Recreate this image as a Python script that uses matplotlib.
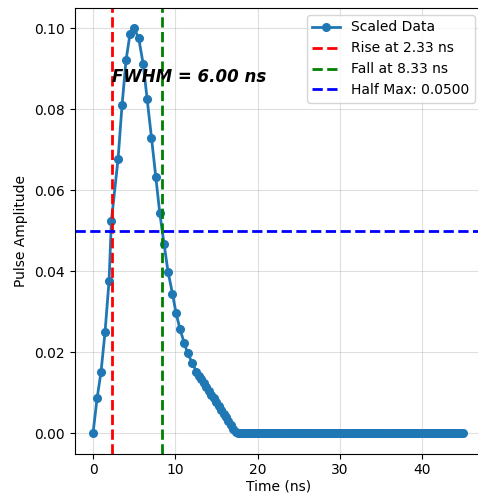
import matplotlib
matplotlib.use("Agg")
import matplotlib.pyplot as plt

# Peak / decay samples
time_main = [0.0, 0.49, 0.97, 1.46, 1.95, 2.23, 3.04, 3.53, 4.01, 4.5, 4.99,
             5.55, 6.1, 6.57, 7.1, 7.62, 8.1, 8.63, 9.11, 9.65, 10.09, 10.57,
             11.06, 11.5, 12.08, 12.56]
amp_main = [0.0, 0.0086, 0.0151, 0.025, 0.0377, 0.0524, 0.0677, 0.0811, 0.0921,
            0.0987, 0.1, 0.0975, 0.0911, 0.0826, 0.073, 0.0633, 0.0545, 0.0467,
            0.0399, 0.0345, 0.0296, 0.0257, 0.0224, 0.0197, 0.0173, 0.0151]

# Linear tail down to zero
time_tail = [12.85, 13.15, 13.45, 13.75, 14.05, 14.35, 14.65, 14.95, 15.25,
             15.55, 15.85, 16.15, 16.45, 16.75, 17.05, 17.35]
amp_tail = [0.0142, 0.0133, 0.0123, 0.0114, 0.0105, 0.0095, 0.0086, 0.0077,
            0.0067, 0.0058, 0.0048, 0.0039, 0.0030, 0.0020, 0.0011, 0.0002]

# Flat zero region
time_flat = [17.65, 17.9, 18.15, 18.4, 18.65, 18.9, 19.15, 19.4, 19.65, 19.9,
             20.15, 20.4, 20.65, 20.9, 21.15, 21.4, 21.65, 21.9, 22.15, 22.4,
             22.65, 22.9, 23.15, 23.4, 23.65, 23.9, 24.15, 24.4, 24.65, 24.9,
             25.15, 25.4, 25.65, 25.9, 26.15, 26.4, 26.65, 26.9, 27.15, 27.4,
             27.65, 27.9, 28.15, 28.4, 28.65, 28.9, 29.15, 29.4, 29.65, 29.9,
             30.15, 30.4, 30.65, 30.9, 31.15, 31.4, 31.65, 31.9, 32.15, 32.4,
             32.65, 32.9, 33.15, 33.4, 33.65, 33.9, 34.15, 34.4, 34.65, 34.9,
             35.15, 35.4, 35.65, 35.9, 36.15, 36.4, 36.65, 36.9, 37.15, 37.4,
             37.65, 37.9, 38.15, 38.4, 38.65, 38.9, 39.15, 39.4, 39.65, 39.9,
             40.15, 40.4, 40.65, 40.9, 41.15, 41.4, 41.65, 41.9, 42.15, 42.4,
             42.65, 42.9, 43.15, 43.4, 43.65, 43.9, 44.15, 44.4, 44.65, 45.0]
amp_flat = [0.0] * len(time_flat)

time = time_main + time_tail + time_flat
amplitude = amp_main + amp_tail + amp_flat

rise_time = 2.33
fall_time = 8.33
half_max = 0.05
fwhm = 6.00

fig = plt.figure(figsize=(4.78, 4.94), dpi=100)
ax = fig.add_axes([74.5 / 478, (494 - 453.5) / 494, (482 - 74.5) / 478, (453.5 - 8) / 494])

ax.plot(time, amplitude, marker='o', markersize=5.5, linewidth=2, color='#1f77b4', label='Scaled Data')
ax.axvline(rise_time, color='red', linestyle='--', linewidth=2, label=f'Rise at {rise_time:.2f} ns')
ax.axvline(fall_time, color='green', linestyle='--', linewidth=2, label=f'Fall at {fall_time:.2f} ns')
ax.axhline(half_max, color='blue', linestyle='--', linewidth=2, label=f'Half Max: {half_max:.4f}')

ax.text(rise_time, 0.0867, f'FWHM = {fwhm:.2f} ns', fontsize=12, fontweight='bold',
        fontstyle='italic', ha='left', va='baseline')

ax.set_xlabel('Time (ns)', labelpad=1.5)
ax.set_ylabel('Pulse Amplitude')
ax.grid(True, alpha=0.4)
ax.legend(loc='upper right')

fig.savefig('out.png', dpi=100)
